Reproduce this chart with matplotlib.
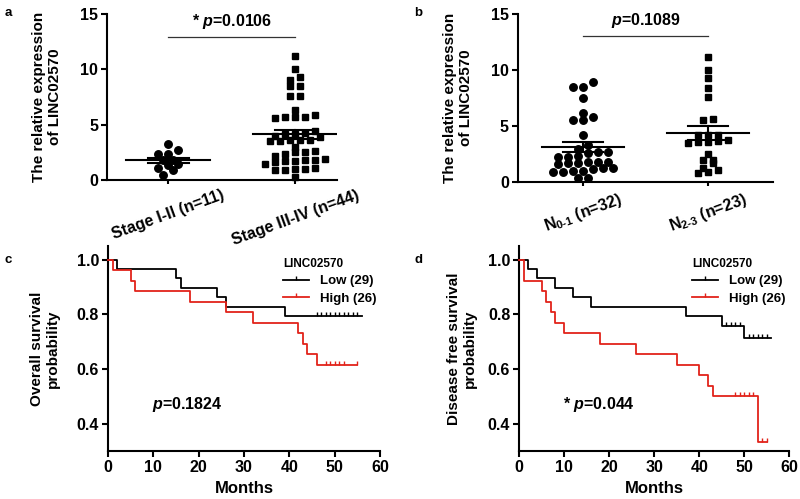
import numpy as np
import matplotlib
matplotlib.use("Agg")
import matplotlib.pyplot as plt
from matplotlib.lines import Line2D

plt.rcParams['font.family'] = ['Liberation Sans', 'DejaVu Sans']
plt.rcParams['font.weight'] = 'bold'
plt.rcParams['mathtext.fontset'] = 'custom'
plt.rcParams['mathtext.rm'] = 'Liberation Sans:bold'
plt.rcParams['mathtext.it'] = 'Liberation Sans:bold:italic'
plt.rcParams['mathtext.bf'] = 'Liberation Sans:bold'

# ---------------- data ----------------
# Panel a
stage_labels = ['Stage I-II (n=11)', 'Stage III-IV (n=44)']
stage_12 = [3.3, 2.7, 2.35, 2.35, 1.8, 1.8, 1.5, 1.35, 1.1, 0.9, 0.45]
stage_34 = [11.2, 10.0, 9.3, 9.0, 8.5, 8.5, 7.6, 7.6,
            6.3, 5.9, 5.7, 5.6, 5.7, 5.7,
            4.2, 4.2, 4.4, 4.3, 4.0, 3.9,
            3.6, 3.5, 3.6, 3.6, 3.5,
            3.0, 2.6, 2.5, 2.5, 2.4, 2.2,
            1.8, 1.7, 1.9, 1.7, 1.5, 1.8, 1.6,
            1.0, 1.0, 0.9, 1.1, 0.9, 0.3]
p_a = r'* $p$=0.0106'

# Panel b
n_labels = [r'N$_{0\text{-}1}$ (n=32)', r'N$_{2\text{-}3}$ (n=23)']
n_01 = [8.95, 8.5, 8.5, 7.5, 6.2, 5.8, 5.5, 5.5, 4.2, 3.3,
        2.95, 2.7, 2.7, 2.6, 2.3, 2.25, 2.25,
        1.8, 1.8, 1.7, 1.8, 1.6, 1.7,
        1.3, 1.3, 1.2,
        1.0, 0.9, 1.0, 0.9,
        0.4, 0.35]
n_23 = [11.2, 10.0, 9.25, 8.4, 7.6, 5.6, 5.5, 4.2, 4.2, 4.2,
        3.8, 3.6, 3.5, 3.6, 3.7, 2.5, 2.0, 1.7, 2.0,
        1.1, 0.8, 0.9, 1.3]
p_b = r'$p$=0.1089'

# Panel c  (overall survival)
os_low_t = [0, 2, 15, 16, 24, 26, 39, 56]
os_low_s = [1.0, 0.966, 0.931, 0.897, 0.862, 0.828, 0.793, 0.793]
os_low_cens = [46, 47, 48, 49, 50, 51, 52, 53, 54, 55]
os_high_t = [0, 1, 5, 6, 18, 26, 32, 42, 43, 44, 46, 55]
os_high_s = [1.0, 0.962, 0.923, 0.885, 0.846, 0.808, 0.769, 0.731, 0.692, 0.654, 0.615, 0.615]
os_high_cens = [48, 49, 50, 51, 52, 55]
p_c = r'$p$=0.1824'

# Panel d  (disease free survival)
dfs_low_t = [0, 2, 4, 8, 12, 16, 37, 45, 50, 56]
dfs_low_s = [1.0, 0.966, 0.931, 0.897, 0.862, 0.828, 0.793, 0.757, 0.713, 0.713]
dfs_low_cens = [46, 47, 48, 49, 51, 52, 53, 54, 55]
dfs_high_t = [0, 1, 5, 6, 7, 8, 10, 18, 26, 35, 40, 42, 43, 53, 55]
dfs_high_s = [1.0, 0.923, 0.885, 0.846, 0.808, 0.769, 0.731, 0.692, 0.654, 0.615,
              0.577, 0.538, 0.500, 0.333, 0.333]
dfs_high_cens = [48, 49, 50, 51, 52, 54, 55]
p_d = r'* $p$=0.044'

legend_title = 'LINC02570'
legend_labels = ['Low (29)', 'High (26)']
RED = '#e2231a'
FS = 11.5
FL = 11

fig = plt.figure(figsize=(8, 4.99), dpi=100)


def style(ax):
    for s in ['top', 'right']:
        ax.spines[s].set_visible(False)
    for s in ['left', 'bottom']:
        ax.spines[s].set_linewidth(1.5)
    ax.tick_params(width=1.5, length=4, labelsize=FS, direction='out', pad=2.5)
    for lab in ax.get_xticklabels() + ax.get_yticklabels():
        lab.set_fontweight('bold')


def swarm_offsets(vals, row_h, step):
    vals = np.asarray(vals, dtype=float)
    order = np.argsort(vals)
    offs = np.zeros(len(vals))
    rows = []
    cur = []
    start = None
    for idx in order:
        v = vals[idx]
        if start is None or v - start >= row_h:
            if cur:
                rows.append(cur)
            cur = [idx]
            start = v
        else:
            cur.append(idx)
    if cur:
        rows.append(cur)
    for r in rows:
        n = len(r)
        for k, idx in enumerate(r):
            offs[idx] = (k - (n - 1) / 2.0) * step
    return offs


def dot_panel(ax, groups, markers, labels, xlim, step, sig_y, ptxt):
    for i, (g, m) in enumerate(zip(groups, markers)):
        g = np.asarray(g, dtype=float)
        off = swarm_offsets(g, 0.5, step)
        ax.plot(i + off, g, linestyle='none', marker=m, color='black',
                markersize=5.4 if m == 'o' else 5.0, clip_on=False, zorder=3)
        mean = g.mean()
        sem = g.std(ddof=1) / np.sqrt(len(g))
        ax.plot([i - 0.33, i + 0.33], [mean, mean], color='black', lw=1.5, zorder=4)
        ax.plot([i - 0.16, i + 0.16], [mean + sem, mean + sem], color='black', lw=1.5, zorder=4)
        ax.plot([i - 0.16, i + 0.16], [mean - sem, mean - sem], color='black', lw=1.5, zorder=4)
        ax.plot([i, i], [mean - sem, mean + sem], color='black', lw=1.5, zorder=4)
    ax.set_xlim(*xlim)
    ax.set_ylim(0, 15)
    ax.set_yticks([0, 5, 10, 15])
    ax.set_xticks([0, 1])
    ax.set_xticklabels(labels, rotation=20, ha='center', fontsize=FS, fontweight='bold')
    ax.plot([0, 1], [sig_y, sig_y], color='#333333', lw=0.9)
    ax.text(0.5, sig_y + 0.6, ptxt, ha='center', va='bottom', fontsize=FS, fontweight='bold')
    ax.set_ylabel('The relative expression\nof LINC02570', fontsize=FL, fontweight='bold',
                  linespacing=1.15, labelpad=13)
    style(ax)
    ax.tick_params(axis='x', length=3)


def km_panel(ax, curves, ptxt, ylabel, ypad):
    for t, s, c, col in curves:
        ax.step(t, s, where='post', color=col, lw=1.3, clip_on=False, zorder=3)
        t_arr = np.asarray(t)
        s_arr = np.asarray(s)
        cy = [s_arr[np.searchsorted(t_arr, ct, side='right') - 1] for ct in c]
        ax.plot(c, cy, linestyle='none', marker=2, markersize=3, mew=1.0,
                color=col, clip_on=False, zorder=3)
    ax.set_xlim(0, 60)
    ax.set_ylim(0.3, 1.05)
    ax.set_xticks(np.arange(0, 61, 10))
    ax.set_yticks([0.4, 0.6, 0.8, 1.0])
    ax.set_yticklabels(['0.4', '0.6', '0.8', '1.0'])
    ax.set_xlabel('Months', fontsize=FS + 0.5, fontweight='bold', labelpad=4)
    ax.set_ylabel(ylabel, fontsize=FL, fontweight='bold', linespacing=1.15, labelpad=ypad)
    ax.text(9.7, 0.47, ptxt, ha='left', va='center', fontsize=FS, fontweight='bold')
    handles = [Line2D([0], [0], color='black', lw=1.3, marker=2, markersize=3, mew=1.0),
               Line2D([0], [0], color=RED, lw=1.3, marker=2, markersize=3, mew=1.0)]
    leg = ax.legend(handles, legend_labels, title=legend_title, loc='upper right',
                    bbox_to_anchor=(1.03, 1.0), frameon=False, fontsize=9.5,
                    title_fontproperties={'weight': 'bold', 'size': 8.5},
                    handlelength=2.0, handletextpad=0.8, labelspacing=0.4,
                    alignment='left', numpoints=1)
    for txt in leg.get_texts():
        txt.set_fontweight('bold')
    style(ax)


axA = fig.add_axes([0.134, 0.639, 0.2875, 0.333])
dot_panel(axA, [stage_12, stage_34], ['o', 's'], stage_labels, (-0.48, 1.33), 0.079, 12.9, p_a)

axB = fig.add_axes([0.6475, 0.635, 0.319, 0.337])
dot_panel(axB, [n_01, n_23], ['o', 's'], n_labels, (-0.52, 1.52), 0.08, 13.0, p_b)

axC = fig.add_axes([0.135, 0.0962, 0.34, 0.411])
km_panel(axC, [(os_low_t, os_low_s, os_low_cens, 'black'),
               (os_high_t, os_high_s, os_high_cens, RED)], p_c,
         'Overall survival\nprobability', 12)

axD = fig.add_axes([0.649, 0.0962, 0.3375, 0.411])
km_panel(axD, [(dfs_low_t, dfs_low_s, dfs_low_cens, 'black'),
               (dfs_high_t, dfs_high_s, dfs_high_cens, RED)], p_d,
         'Disease free survival\nprobability', 8)

for lbl, x, y in [('a', 0.006, 0.985), ('b', 0.518, 0.985), ('c', 0.006, 0.49), ('d', 0.518, 0.49)]:
    fig.text(x, y, lbl, fontsize=9.5, fontweight='bold', va='top', ha='left')

fig.savefig('out.png', dpi=100)
